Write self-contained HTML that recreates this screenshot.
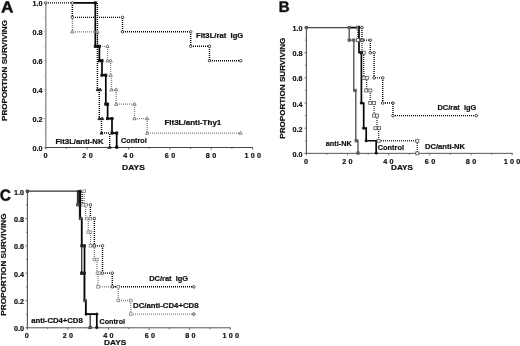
<!DOCTYPE html>
<html><head><meta charset="utf-8"><style>
html,body{margin:0;padding:0;background:#fff;width:520px;height:346px;overflow:hidden;}
svg{display:block;will-change:transform;}
text{font-family:"Liberation Sans", sans-serif;}
</style></head><body>
<svg width="520" height="346" viewBox="0 0 520 346" font-family='"Liberation Sans", sans-serif'>
<rect width="520" height="346" fill="#fff"/>
<line x1="45.8" y1="2.4" x2="45.8" y2="147.5" stroke="#999" stroke-width="1.5"/>
<line x1="44.6" y1="147.5" x2="252.8" y2="147.5" stroke="#444" stroke-width="1.0"/>
<line x1="43.8" y1="147.5" x2="45.8" y2="147.5" stroke="#999" stroke-width="0.8"/>
<line x1="44.4" y1="133.04" x2="45.8" y2="133.04" stroke="#999" stroke-width="0.8"/>
<line x1="43.8" y1="118.58" x2="45.8" y2="118.58" stroke="#999" stroke-width="0.8"/>
<line x1="44.4" y1="104.12" x2="45.8" y2="104.12" stroke="#999" stroke-width="0.8"/>
<line x1="43.8" y1="89.66" x2="45.8" y2="89.66" stroke="#999" stroke-width="0.8"/>
<line x1="44.4" y1="75.2" x2="45.8" y2="75.2" stroke="#999" stroke-width="0.8"/>
<line x1="43.8" y1="60.74" x2="45.8" y2="60.74" stroke="#999" stroke-width="0.8"/>
<line x1="44.4" y1="46.28" x2="45.8" y2="46.28" stroke="#999" stroke-width="0.8"/>
<line x1="43.8" y1="31.82" x2="45.8" y2="31.82" stroke="#999" stroke-width="0.8"/>
<line x1="44.4" y1="17.36" x2="45.8" y2="17.36" stroke="#999" stroke-width="0.8"/>
<line x1="43.8" y1="2.9" x2="45.8" y2="2.9" stroke="#999" stroke-width="0.8"/>
<line x1="45.8" y1="147.5" x2="45.8" y2="149.5" stroke="#444" stroke-width="0.8"/>
<line x1="66.48" y1="147.5" x2="66.48" y2="148.9" stroke="#444" stroke-width="0.8"/>
<line x1="87.16" y1="147.5" x2="87.16" y2="149.5" stroke="#444" stroke-width="0.8"/>
<line x1="107.84" y1="147.5" x2="107.84" y2="148.9" stroke="#444" stroke-width="0.8"/>
<line x1="128.52" y1="147.5" x2="128.52" y2="149.5" stroke="#444" stroke-width="0.8"/>
<line x1="149.2" y1="147.5" x2="149.2" y2="148.9" stroke="#444" stroke-width="0.8"/>
<line x1="169.88" y1="147.5" x2="169.88" y2="149.5" stroke="#444" stroke-width="0.8"/>
<line x1="190.56" y1="147.5" x2="190.56" y2="148.9" stroke="#444" stroke-width="0.8"/>
<line x1="211.24" y1="147.5" x2="211.24" y2="149.5" stroke="#444" stroke-width="0.8"/>
<line x1="231.92" y1="147.5" x2="231.92" y2="148.9" stroke="#444" stroke-width="0.8"/>
<line x1="252.6" y1="147.5" x2="252.6" y2="149.5" stroke="#444" stroke-width="0.8"/>
<text x="42.5" y="151.0" font-size="7.3" font-weight="bold" fill="#111" text-anchor="end" textLength="10.0" lengthAdjust="spacingAndGlyphs" stroke="#111" stroke-width="0.2">0.0</text>
<text x="42.5" y="122.08" font-size="7.3" font-weight="bold" fill="#111" text-anchor="end" textLength="10.0" lengthAdjust="spacingAndGlyphs" stroke="#111" stroke-width="0.2">0.2</text>
<text x="42.5" y="93.16" font-size="7.3" font-weight="bold" fill="#111" text-anchor="end" textLength="10.0" lengthAdjust="spacingAndGlyphs" stroke="#111" stroke-width="0.2">0.4</text>
<text x="42.5" y="64.24" font-size="7.3" font-weight="bold" fill="#111" text-anchor="end" textLength="10.0" lengthAdjust="spacingAndGlyphs" stroke="#111" stroke-width="0.2">0.6</text>
<text x="42.5" y="35.32" font-size="7.3" font-weight="bold" fill="#111" text-anchor="end" textLength="10.0" lengthAdjust="spacingAndGlyphs" stroke="#111" stroke-width="0.2">0.8</text>
<text x="42.5" y="6.4" font-size="7.3" font-weight="bold" fill="#111" text-anchor="end" textLength="10.0" lengthAdjust="spacingAndGlyphs" stroke="#111" stroke-width="0.2">1.0</text>
<text x="43.5" y="158.4" font-size="7.2" font-weight="bold" fill="#111" text-anchor="start" stroke="#111" stroke-width="0.2">0</text>
<text x="82.35" y="158.4" font-size="7.2" font-weight="bold" fill="#111" text-anchor="start" stroke="#111" stroke-width="0.2">2</text>
<text x="88.65" y="158.4" font-size="7.2" font-weight="bold" fill="#111" text-anchor="start" stroke="#111" stroke-width="0.2">0</text>
<text x="123.25" y="158.4" font-size="7.2" font-weight="bold" fill="#111" text-anchor="start" stroke="#111" stroke-width="0.2">4</text>
<text x="129.55" y="158.4" font-size="7.2" font-weight="bold" fill="#111" text-anchor="start" stroke="#111" stroke-width="0.2">0</text>
<text x="164.85" y="158.4" font-size="7.2" font-weight="bold" fill="#111" text-anchor="start" stroke="#111" stroke-width="0.2">6</text>
<text x="171.15" y="158.4" font-size="7.2" font-weight="bold" fill="#111" text-anchor="start" stroke="#111" stroke-width="0.2">0</text>
<text x="205.85" y="158.4" font-size="7.2" font-weight="bold" fill="#111" text-anchor="start" stroke="#111" stroke-width="0.2">8</text>
<text x="212.15" y="158.4" font-size="7.2" font-weight="bold" fill="#111" text-anchor="start" stroke="#111" stroke-width="0.2">0</text>
<text x="244.4" y="158.4" font-size="7.2" font-weight="bold" fill="#111" text-anchor="start" stroke="#111" stroke-width="0.2">1</text>
<text x="250.7" y="158.4" font-size="7.2" font-weight="bold" fill="#111" text-anchor="start" stroke="#111" stroke-width="0.2">0</text>
<text x="257.0" y="158.4" font-size="7.2" font-weight="bold" fill="#111" text-anchor="start" stroke="#111" stroke-width="0.2">0</text>
<path d="M10.5 12.4 9.47 9.62H5.05L4.03 12.4H1.6L5.83 1.5H8.69L12.9 12.4ZM7.26 3.18 7.21 3.35Q7.13 3.63 7.01 3.98Q6.9 4.34 5.6 7.9H8.93L7.78 4.76L7.43 3.71Z" fill="#111" stroke="#111" stroke-width="0.6"/>
<text transform="translate(7.4,121) rotate(-90)" font-size="7.3" font-weight="bold" fill="#111" stroke="#111" stroke-width="0.2" textLength="101" lengthAdjust="spacingAndGlyphs">PROPORTION SURVIVING</text>
<text x="122" y="170" font-size="7.6" font-weight="bold" fill="#111" text-anchor="start" textLength="23" lengthAdjust="spacingAndGlyphs" stroke="#111" stroke-width="0.2">DAYS</text>
<polyline points="72.4,2.9 95.3,2.9 95.3,46.28 99.4,46.28 99.4,60.74 102,60.74 102,75.2 105.8,75.2 105.8,104.12 107.6,104.12 107.6,118.58 112,118.58 112,133.04 116.7,133.04 116.7,147.5" fill="none" stroke="#050505" stroke-width="1.7"/>
<line x1="97.4" y1="2.9" x2="97.4" y2="89.66" stroke="#000" stroke-width="1.4" stroke-dasharray="1 1" stroke-dashoffset="1.9"/>
<line x1="97.4" y1="89.66" x2="99.3" y2="89.66" stroke="#000" stroke-width="1.4" stroke-dasharray="1 1" stroke-dashoffset="1.4"/>
<line x1="99.3" y1="89.66" x2="99.3" y2="118.58" stroke="#000" stroke-width="1.4" stroke-dasharray="1 1" stroke-dashoffset="1.66"/>
<line x1="99.3" y1="118.58" x2="101.5" y2="118.58" stroke="#000" stroke-width="1.4" stroke-dasharray="1 1" stroke-dashoffset="1.3"/>
<line x1="101.5" y1="118.58" x2="101.5" y2="133.04" stroke="#000" stroke-width="1.4" stroke-dasharray="1 1" stroke-dashoffset="1.58"/>
<line x1="101.5" y1="133.04" x2="109.7" y2="133.04" stroke="#000" stroke-width="1.4" stroke-dasharray="1 1" stroke-dashoffset="1.5"/>
<line x1="109.7" y1="133.04" x2="109.7" y2="147.5" stroke="#000" stroke-width="1.4" stroke-dasharray="1 1" stroke-dashoffset="1.04"/>
<line x1="72.4" y1="2.9" x2="72.4" y2="31.82" stroke="#808080" stroke-width="1.3" stroke-dasharray="1 1" stroke-dashoffset="1.9"/>
<line x1="72.4" y1="31.82" x2="97.5" y2="31.82" stroke="#808080" stroke-width="1.3" stroke-dasharray="1 1" stroke-dashoffset="1.4"/>
<line x1="97.5" y1="31.82" x2="97.5" y2="46.28" stroke="#808080" stroke-width="1.3" stroke-dasharray="1 1" stroke-dashoffset="1.82"/>
<line x1="97.5" y1="46.28" x2="107.5" y2="46.28" stroke="#808080" stroke-width="1.3" stroke-dasharray="1 1" stroke-dashoffset="1.5"/>
<line x1="107.5" y1="46.28" x2="107.5" y2="60.74" stroke="#808080" stroke-width="1.3" stroke-dasharray="1 1" stroke-dashoffset="1.28"/>
<line x1="107.5" y1="60.74" x2="110.6" y2="60.74" stroke="#808080" stroke-width="1.3" stroke-dasharray="1 1" stroke-dashoffset="1.5"/>
<line x1="110.6" y1="60.74" x2="110.6" y2="75.2" stroke="#808080" stroke-width="1.3" stroke-dasharray="1 1" stroke-dashoffset="1.74"/>
<line x1="110.6" y1="75.2" x2="111.5" y2="75.2" stroke="#808080" stroke-width="1.3" stroke-dasharray="1 1" stroke-dashoffset="1.6"/>
<line x1="111.5" y1="75.2" x2="111.5" y2="89.66" stroke="#808080" stroke-width="1.3" stroke-dasharray="1 1" stroke-dashoffset="1.2"/>
<line x1="111.5" y1="89.66" x2="116.2" y2="89.66" stroke="#808080" stroke-width="1.3" stroke-dasharray="1 1" stroke-dashoffset="1.5"/>
<line x1="116.2" y1="89.66" x2="116.2" y2="104.12" stroke="#808080" stroke-width="1.3" stroke-dasharray="1 1" stroke-dashoffset="1.66"/>
<line x1="116.2" y1="104.12" x2="134.5" y2="104.12" stroke="#808080" stroke-width="1.3" stroke-dasharray="1 1" stroke-dashoffset="1.2"/>
<line x1="134.5" y1="104.12" x2="134.5" y2="118.58" stroke="#808080" stroke-width="1.3" stroke-dasharray="1 1" stroke-dashoffset="1.12"/>
<line x1="134.5" y1="118.58" x2="147.2" y2="118.58" stroke="#808080" stroke-width="1.3" stroke-dasharray="1 1" stroke-dashoffset="1.5"/>
<line x1="147.2" y1="118.58" x2="147.2" y2="133.04" stroke="#808080" stroke-width="1.3" stroke-dasharray="1 1" stroke-dashoffset="1.58"/>
<line x1="147.2" y1="133.04" x2="240.5" y2="133.04" stroke="#808080" stroke-width="1.3" stroke-dasharray="1 1" stroke-dashoffset="1.2"/>
<line x1="45.8" y1="2.9" x2="72.4" y2="2.9" stroke="#000" stroke-width="1.4" stroke-dasharray="1 1" stroke-dashoffset="1.8"/>
<line x1="72.4" y1="2.9" x2="72.4" y2="17.36" stroke="#000" stroke-width="1.4" stroke-dasharray="1 1" stroke-dashoffset="1.9"/>
<line x1="72.4" y1="17.36" x2="122.5" y2="17.36" stroke="#000" stroke-width="1.4" stroke-dasharray="1 1" stroke-dashoffset="1.4"/>
<line x1="122.5" y1="17.36" x2="122.5" y2="31.82" stroke="#000" stroke-width="1.4" stroke-dasharray="1 1" stroke-dashoffset="1.36"/>
<line x1="122.5" y1="31.82" x2="190.7" y2="31.82" stroke="#000" stroke-width="1.4" stroke-dasharray="1 1" stroke-dashoffset="1.5"/>
<line x1="190.7" y1="31.82" x2="190.7" y2="46.28" stroke="#000" stroke-width="1.4" stroke-dasharray="1 1" stroke-dashoffset="1.82"/>
<line x1="190.7" y1="46.28" x2="209.5" y2="46.28" stroke="#000" stroke-width="1.4" stroke-dasharray="1 1" stroke-dashoffset="1.7"/>
<line x1="209.5" y1="46.28" x2="209.5" y2="60.74" stroke="#000" stroke-width="1.4" stroke-dasharray="1 1" stroke-dashoffset="1.28"/>
<line x1="209.5" y1="60.74" x2="240.7" y2="60.74" stroke="#000" stroke-width="1.4" stroke-dasharray="1 1" stroke-dashoffset="1.5"/>
<circle cx="45.8" cy="2.9" r="1.25" fill="#fff" stroke="#222" stroke-width="0.8"/>
<circle cx="72.4" cy="2.9" r="1.25" fill="#fff" stroke="#222" stroke-width="0.8"/>
<circle cx="72.4" cy="17.36" r="1.25" fill="#fff" stroke="#222" stroke-width="0.8"/>
<circle cx="122.5" cy="17.36" r="1.25" fill="#fff" stroke="#222" stroke-width="0.8"/>
<circle cx="122.5" cy="31.82" r="1.25" fill="#fff" stroke="#222" stroke-width="0.8"/>
<circle cx="190.7" cy="31.82" r="1.25" fill="#fff" stroke="#222" stroke-width="0.8"/>
<circle cx="190.7" cy="46.28" r="1.25" fill="#fff" stroke="#222" stroke-width="0.8"/>
<circle cx="209.5" cy="46.28" r="1.25" fill="#fff" stroke="#222" stroke-width="0.8"/>
<circle cx="209.5" cy="60.74" r="1.25" fill="#fff" stroke="#222" stroke-width="0.8"/>
<circle cx="240.7" cy="60.74" r="1.25" fill="#fff" stroke="#222" stroke-width="0.8"/>
<polygon points="72.4,30.04 70.75,33.01 74.05,33.01" fill="#fff" stroke="#666" stroke-width="0.8"/>
<polygon points="97.5,30.04 95.85,33.01 99.15,33.01" fill="#fff" stroke="#666" stroke-width="0.8"/>
<polygon points="107.5,44.5 105.85,47.47 109.15,47.47" fill="#fff" stroke="#666" stroke-width="0.8"/>
<polygon points="107.5,58.96 105.85,61.93 109.15,61.93" fill="#fff" stroke="#666" stroke-width="0.8"/>
<polygon points="110.6,58.96 108.95,61.93 112.25,61.93" fill="#fff" stroke="#666" stroke-width="0.8"/>
<polygon points="110.6,73.42 108.95,76.39 112.25,76.39" fill="#fff" stroke="#666" stroke-width="0.8"/>
<polygon points="111.5,87.88 109.85,90.85 113.15,90.85" fill="#fff" stroke="#666" stroke-width="0.8"/>
<polygon points="116.2,87.88 114.55,90.85 117.85,90.85" fill="#fff" stroke="#666" stroke-width="0.8"/>
<polygon points="116.2,102.34 114.55,105.31 117.85,105.31" fill="#fff" stroke="#666" stroke-width="0.8"/>
<polygon points="134.5,102.34 132.85,105.31 136.15,105.31" fill="#fff" stroke="#666" stroke-width="0.8"/>
<polygon points="134.5,116.8 132.85,119.77 136.15,119.77" fill="#fff" stroke="#666" stroke-width="0.8"/>
<polygon points="147.2,116.8 145.55,119.77 148.85,119.77" fill="#fff" stroke="#666" stroke-width="0.8"/>
<polygon points="147.2,131.26 145.55,134.23 148.85,134.23" fill="#fff" stroke="#666" stroke-width="0.8"/>
<polygon points="240.5,131.26 238.85,134.23 242.15,134.23" fill="#fff" stroke="#666" stroke-width="0.8"/>
<polygon points="97.6,88.04 96.1,90.74 99.1,90.74" fill="#222" stroke="#222" stroke-width="0.8"/>
<polygon points="100.2,88.04 98.7,90.74 101.7,90.74" fill="#222" stroke="#222" stroke-width="0.8"/>
<polygon points="99.3,116.96 97.8,119.66 100.8,119.66" fill="#222" stroke="#222" stroke-width="0.8"/>
<polygon points="102.3,116.96 100.8,119.66 103.8,119.66" fill="#222" stroke="#222" stroke-width="0.8"/>
<polygon points="101.5,131.42 100.0,134.12 103.0,134.12" fill="#222" stroke="#222" stroke-width="0.8"/>
<polygon points="109.7,145.58 108.2,148.28 111.2,148.28" fill="#222" stroke="#222" stroke-width="0.8"/>
<rect x="94.2" y="1.8" width="2.2" height="2.2" fill="#111" stroke="#111" stroke-width="0.8"/>
<rect x="94.2" y="45.18" width="2.2" height="2.2" fill="#111" stroke="#111" stroke-width="0.8"/>
<rect x="98.3" y="45.18" width="2.2" height="2.2" fill="#111" stroke="#111" stroke-width="0.8"/>
<rect x="98.3" y="59.64" width="2.2" height="2.2" fill="#111" stroke="#111" stroke-width="0.8"/>
<rect x="100.9" y="59.64" width="2.2" height="2.2" fill="#111" stroke="#111" stroke-width="0.8"/>
<rect x="100.9" y="74.1" width="2.2" height="2.2" fill="#111" stroke="#111" stroke-width="0.8"/>
<rect x="104.7" y="74.1" width="2.2" height="2.2" fill="#111" stroke="#111" stroke-width="0.8"/>
<rect x="104.7" y="103.02" width="2.2" height="2.2" fill="#111" stroke="#111" stroke-width="0.8"/>
<rect x="106.5" y="103.02" width="2.2" height="2.2" fill="#111" stroke="#111" stroke-width="0.8"/>
<rect x="106.5" y="117.48" width="2.2" height="2.2" fill="#111" stroke="#111" stroke-width="0.8"/>
<rect x="110.9" y="117.48" width="2.2" height="2.2" fill="#111" stroke="#111" stroke-width="0.8"/>
<rect x="110.9" y="131.94" width="2.2" height="2.2" fill="#111" stroke="#111" stroke-width="0.8"/>
<rect x="115.6" y="131.94" width="2.2" height="2.2" fill="#111" stroke="#111" stroke-width="0.8"/>
<rect x="115.6" y="146.1" width="2.2" height="2.2" fill="#111" stroke="#111" stroke-width="0.8"/>
<text x="196" y="38.4" font-size="7.0" font-weight="bold" fill="#111" text-anchor="start" textLength="47.3" lengthAdjust="spacingAndGlyphs" stroke="#111" stroke-width="0.2">Flt3L/rat&#160;&#160;IgG</text>
<text x="164.4" y="125.4" font-size="7.0" font-weight="bold" fill="#111" text-anchor="start" textLength="56.9" lengthAdjust="spacingAndGlyphs" stroke="#111" stroke-width="0.2">Flt3L/anti-Thy1</text>
<text x="55.4" y="143.7" font-size="7.0" font-weight="bold" fill="#111" text-anchor="start" textLength="48.1" lengthAdjust="spacingAndGlyphs" stroke="#111" stroke-width="0.2">Flt3L/anti-NK</text>
<text x="121" y="142.8" font-size="7.0" font-weight="bold" fill="#111" text-anchor="start" textLength="25.7" lengthAdjust="spacingAndGlyphs" stroke="#111" stroke-width="0.2">Control</text>
<line x1="306.4" y1="27.05" x2="306.4" y2="153.35" stroke="#555" stroke-width="1.1"/>
<line x1="305.2" y1="153.35" x2="512.6" y2="153.35" stroke="#555" stroke-width="1.0"/>
<line x1="304.4" y1="153.35" x2="306.4" y2="153.35" stroke="#555" stroke-width="0.8"/>
<line x1="305.0" y1="140.77" x2="306.4" y2="140.77" stroke="#555" stroke-width="0.8"/>
<line x1="304.4" y1="128.19" x2="306.4" y2="128.19" stroke="#555" stroke-width="0.8"/>
<line x1="305.0" y1="115.61" x2="306.4" y2="115.61" stroke="#555" stroke-width="0.8"/>
<line x1="304.4" y1="103.03" x2="306.4" y2="103.03" stroke="#555" stroke-width="0.8"/>
<line x1="305.0" y1="90.45" x2="306.4" y2="90.45" stroke="#555" stroke-width="0.8"/>
<line x1="304.4" y1="77.87" x2="306.4" y2="77.87" stroke="#555" stroke-width="0.8"/>
<line x1="305.0" y1="65.29" x2="306.4" y2="65.29" stroke="#555" stroke-width="0.8"/>
<line x1="304.4" y1="52.71" x2="306.4" y2="52.71" stroke="#555" stroke-width="0.8"/>
<line x1="305.0" y1="40.13" x2="306.4" y2="40.13" stroke="#555" stroke-width="0.8"/>
<line x1="304.4" y1="27.55" x2="306.4" y2="27.55" stroke="#555" stroke-width="0.8"/>
<line x1="306.4" y1="153.35" x2="306.4" y2="155.35" stroke="#555" stroke-width="0.8"/>
<line x1="326.98" y1="153.35" x2="326.98" y2="154.75" stroke="#555" stroke-width="0.8"/>
<line x1="347.56" y1="153.35" x2="347.56" y2="155.35" stroke="#555" stroke-width="0.8"/>
<line x1="368.14" y1="153.35" x2="368.14" y2="154.75" stroke="#555" stroke-width="0.8"/>
<line x1="388.72" y1="153.35" x2="388.72" y2="155.35" stroke="#555" stroke-width="0.8"/>
<line x1="409.3" y1="153.35" x2="409.3" y2="154.75" stroke="#555" stroke-width="0.8"/>
<line x1="429.88" y1="153.35" x2="429.88" y2="155.35" stroke="#555" stroke-width="0.8"/>
<line x1="450.46" y1="153.35" x2="450.46" y2="154.75" stroke="#555" stroke-width="0.8"/>
<line x1="471.04" y1="153.35" x2="471.04" y2="155.35" stroke="#555" stroke-width="0.8"/>
<line x1="491.62" y1="153.35" x2="491.62" y2="154.75" stroke="#555" stroke-width="0.8"/>
<line x1="512.2" y1="153.35" x2="512.2" y2="155.35" stroke="#555" stroke-width="0.8"/>
<text x="302.5" y="156.85" font-size="7.3" font-weight="bold" fill="#111" text-anchor="end" textLength="10.0" lengthAdjust="spacingAndGlyphs" stroke="#111" stroke-width="0.2">0.0</text>
<text x="302.5" y="131.69" font-size="7.3" font-weight="bold" fill="#111" text-anchor="end" textLength="10.0" lengthAdjust="spacingAndGlyphs" stroke="#111" stroke-width="0.2">0.2</text>
<text x="302.5" y="106.53" font-size="7.3" font-weight="bold" fill="#111" text-anchor="end" textLength="10.0" lengthAdjust="spacingAndGlyphs" stroke="#111" stroke-width="0.2">0.4</text>
<text x="302.5" y="81.37" font-size="7.3" font-weight="bold" fill="#111" text-anchor="end" textLength="10.0" lengthAdjust="spacingAndGlyphs" stroke="#111" stroke-width="0.2">0.6</text>
<text x="302.5" y="56.21" font-size="7.3" font-weight="bold" fill="#111" text-anchor="end" textLength="10.0" lengthAdjust="spacingAndGlyphs" stroke="#111" stroke-width="0.2">0.8</text>
<text x="302.5" y="31.05" font-size="7.3" font-weight="bold" fill="#111" text-anchor="end" textLength="10.0" lengthAdjust="spacingAndGlyphs" stroke="#111" stroke-width="0.2">1.0</text>
<text x="304.0" y="163.6" font-size="7.2" font-weight="bold" fill="#111" text-anchor="start" stroke="#111" stroke-width="0.2">0</text>
<text x="342.15" y="163.6" font-size="7.2" font-weight="bold" fill="#111" text-anchor="start" stroke="#111" stroke-width="0.2">2</text>
<text x="348.45" y="163.6" font-size="7.2" font-weight="bold" fill="#111" text-anchor="start" stroke="#111" stroke-width="0.2">0</text>
<text x="383.25" y="163.6" font-size="7.2" font-weight="bold" fill="#111" text-anchor="start" stroke="#111" stroke-width="0.2">4</text>
<text x="389.55" y="163.6" font-size="7.2" font-weight="bold" fill="#111" text-anchor="start" stroke="#111" stroke-width="0.2">0</text>
<text x="424.85" y="163.6" font-size="7.2" font-weight="bold" fill="#111" text-anchor="start" stroke="#111" stroke-width="0.2">6</text>
<text x="431.15" y="163.6" font-size="7.2" font-weight="bold" fill="#111" text-anchor="start" stroke="#111" stroke-width="0.2">0</text>
<text x="465.85" y="163.6" font-size="7.2" font-weight="bold" fill="#111" text-anchor="start" stroke="#111" stroke-width="0.2">8</text>
<text x="472.15" y="163.6" font-size="7.2" font-weight="bold" fill="#111" text-anchor="start" stroke="#111" stroke-width="0.2">0</text>
<text x="503.7" y="163.6" font-size="7.2" font-weight="bold" fill="#111" text-anchor="start" stroke="#111" stroke-width="0.2">1</text>
<text x="510.0" y="163.6" font-size="7.2" font-weight="bold" fill="#111" text-anchor="start" stroke="#111" stroke-width="0.2">0</text>
<text x="516.3" y="163.6" font-size="7.2" font-weight="bold" fill="#111" text-anchor="start" stroke="#111" stroke-width="0.2">0</text>
<path d="M288.9 8.9Q288.9 10.34 287.84 11.12Q286.78 11.9 284.89 11.9H279.7V1.4H284.45Q286.35 1.4 287.33 2.07Q288.3 2.73 288.3 4.04Q288.3 4.93 287.81 5.55Q287.32 6.16 286.32 6.38Q287.58 6.53 288.24 7.18Q288.9 7.83 288.9 8.9ZM286.12 4.34Q286.12 3.63 285.67 3.33Q285.22 3.03 284.35 3.03H281.87V5.63H284.36Q285.28 5.63 285.7 5.31Q286.12 4.98 286.12 4.34ZM286.72 8.73Q286.72 7.26 284.63 7.26H281.87V10.27H284.71Q285.75 10.27 286.24 9.88Q286.72 9.5 286.72 8.73Z" fill="#111" stroke="#111" stroke-width="0.5"/>
<text transform="translate(285.2,138.7) rotate(-90)" font-size="7.3" font-weight="bold" fill="#111" stroke="#111" stroke-width="0.2" textLength="101" lengthAdjust="spacingAndGlyphs">PROPORTION SURVIVING</text>
<text x="391.1" y="170.2" font-size="7.6" font-weight="bold" fill="#111" text-anchor="start" textLength="21.9" lengthAdjust="spacingAndGlyphs" stroke="#111" stroke-width="0.2">DAYS</text>
<polyline points="306.4,27.55 349.2,27.55 349.2,40.13 353.8,40.13 353.8,90.45 355.8,90.45 355.8,140.77 358,140.77 358,153.35" fill="none" stroke="#4a4a4a" stroke-width="1.3"/>
<line x1="357.9" y1="27.55" x2="357.9" y2="40.13" stroke="#333" stroke-width="1.3" stroke-dasharray="1 1" stroke-dashoffset="1.55"/>
<line x1="357.9" y1="40.13" x2="362" y2="40.13" stroke="#333" stroke-width="1.3" stroke-dasharray="1 1" stroke-dashoffset="1.9"/>
<line x1="362" y1="40.13" x2="362" y2="52.71" stroke="#333" stroke-width="1.3" stroke-dasharray="1 1" stroke-dashoffset="1.13"/>
<line x1="362" y1="52.71" x2="363.7" y2="52.71" stroke="#333" stroke-width="1.3" stroke-dasharray="1 1" stroke-dashoffset="0"/>
<line x1="363.7" y1="52.71" x2="363.7" y2="77.87" stroke="#333" stroke-width="1.3" stroke-dasharray="1 1" stroke-dashoffset="1.71"/>
<line x1="363.7" y1="77.87" x2="366.6" y2="77.87" stroke="#333" stroke-width="1.3" stroke-dasharray="1 1" stroke-dashoffset="1.7"/>
<line x1="366.6" y1="77.87" x2="366.6" y2="90.45" stroke="#333" stroke-width="1.3" stroke-dasharray="1 1" stroke-dashoffset="1.87"/>
<line x1="366.6" y1="90.45" x2="370.3" y2="90.45" stroke="#333" stroke-width="1.3" stroke-dasharray="1 1" stroke-dashoffset="1.6"/>
<line x1="370.3" y1="90.45" x2="370.3" y2="103.03" stroke="#333" stroke-width="1.3" stroke-dasharray="1 1" stroke-dashoffset="1.45"/>
<line x1="370.3" y1="103.03" x2="374.1" y2="103.03" stroke="#333" stroke-width="1.3" stroke-dasharray="1 1" stroke-dashoffset="1.3"/>
<line x1="374.1" y1="103.03" x2="374.1" y2="115.61" stroke="#333" stroke-width="1.3" stroke-dasharray="1 1" stroke-dashoffset="1.03"/>
<line x1="374.1" y1="115.61" x2="377" y2="115.61" stroke="#333" stroke-width="1.3" stroke-dasharray="1 1" stroke-dashoffset="1.1"/>
<line x1="377" y1="115.61" x2="377" y2="128.19" stroke="#333" stroke-width="1.3" stroke-dasharray="1 1" stroke-dashoffset="1.61"/>
<line x1="377" y1="128.19" x2="378.6" y2="128.19" stroke="#333" stroke-width="1.3" stroke-dasharray="1 1" stroke-dashoffset="0"/>
<line x1="378.6" y1="128.19" x2="378.6" y2="140.77" stroke="#333" stroke-width="1.3" stroke-dasharray="1 1" stroke-dashoffset="1.19"/>
<line x1="378.6" y1="140.77" x2="417.3" y2="140.77" stroke="#333" stroke-width="1.3" stroke-dasharray="1 1" stroke-dashoffset="1.6"/>
<line x1="417.3" y1="140.77" x2="417.3" y2="153.35" stroke="#333" stroke-width="1.3" stroke-dasharray="1 1" stroke-dashoffset="1.77"/>
<polyline points="349.2,27.55 359,27.55 359,52.71 361.4,52.71 361.4,103.03 363.7,103.03 363.7,128.19 366.2,128.19 366.2,140.77 376.2,140.77 376.2,153.35" fill="none" stroke="#050505" stroke-width="1.7"/>
<line x1="362" y1="27.55" x2="362" y2="40.13" stroke="#000" stroke-width="1.4" stroke-dasharray="1 1" stroke-dashoffset="1.55"/>
<line x1="362" y1="40.13" x2="370.3" y2="40.13" stroke="#000" stroke-width="1.4" stroke-dasharray="1 1" stroke-dashoffset="0"/>
<line x1="370.3" y1="40.13" x2="370.3" y2="52.71" stroke="#000" stroke-width="1.4" stroke-dasharray="1 1" stroke-dashoffset="1.13"/>
<line x1="370.3" y1="52.71" x2="374.1" y2="52.71" stroke="#000" stroke-width="1.4" stroke-dasharray="1 1" stroke-dashoffset="1.3"/>
<line x1="374.1" y1="52.71" x2="374.1" y2="77.87" stroke="#000" stroke-width="1.4" stroke-dasharray="1 1" stroke-dashoffset="1.71"/>
<line x1="374.1" y1="77.87" x2="382.7" y2="77.87" stroke="#000" stroke-width="1.4" stroke-dasharray="1 1" stroke-dashoffset="1.1"/>
<line x1="382.7" y1="77.87" x2="382.7" y2="103.03" stroke="#000" stroke-width="1.4" stroke-dasharray="1 1" stroke-dashoffset="1.87"/>
<line x1="382.7" y1="103.03" x2="393" y2="103.03" stroke="#000" stroke-width="1.4" stroke-dasharray="1 1" stroke-dashoffset="1.7"/>
<line x1="393" y1="103.03" x2="393" y2="115.61" stroke="#000" stroke-width="1.4" stroke-dasharray="1 1" stroke-dashoffset="1.03"/>
<line x1="393" y1="115.61" x2="476.3" y2="115.61" stroke="#000" stroke-width="1.4" stroke-dasharray="1 1" stroke-dashoffset="0"/>
<rect x="305.2" y="26.35" width="2.4" height="2.4" fill="#666" stroke="#555" stroke-width="0.8"/>
<rect x="348.0" y="26.35" width="2.4" height="2.4" fill="#666" stroke="#555" stroke-width="0.8"/>
<rect x="348.0" y="38.93" width="2.4" height="2.4" fill="#666" stroke="#555" stroke-width="0.8"/>
<rect x="352.6" y="38.93" width="2.4" height="2.4" fill="#666" stroke="#555" stroke-width="0.8"/>
<rect x="353.8" y="89.25" width="2.4" height="2.4" fill="#666" stroke="#555" stroke-width="0.8"/>
<rect x="355.0" y="139.57" width="2.4" height="2.4" fill="#666" stroke="#555" stroke-width="0.8"/>
<rect x="356.8" y="151.85" width="2.4" height="2.4" fill="#666" stroke="#555" stroke-width="0.8"/>
<rect x="356.4" y="26.05" width="3.0" height="3.0" fill="#fff" stroke="#555" stroke-width="0.8"/>
<rect x="356.4" y="38.63" width="3.0" height="3.0" fill="#fff" stroke="#555" stroke-width="0.8"/>
<rect x="360.5" y="38.63" width="3.0" height="3.0" fill="#fff" stroke="#555" stroke-width="0.8"/>
<rect x="360.5" y="51.21" width="3.0" height="3.0" fill="#fff" stroke="#555" stroke-width="0.8"/>
<rect x="362.2" y="51.21" width="3.0" height="3.0" fill="#fff" stroke="#555" stroke-width="0.8"/>
<rect x="362.2" y="76.37" width="3.0" height="3.0" fill="#fff" stroke="#555" stroke-width="0.8"/>
<rect x="365.3" y="76.37" width="3.0" height="3.0" fill="#fff" stroke="#555" stroke-width="0.8"/>
<rect x="364.7" y="88.95" width="3.0" height="3.0" fill="#fff" stroke="#555" stroke-width="0.8"/>
<rect x="368.8" y="88.95" width="3.0" height="3.0" fill="#fff" stroke="#555" stroke-width="0.8"/>
<rect x="368.8" y="101.53" width="3.0" height="3.0" fill="#fff" stroke="#555" stroke-width="0.8"/>
<rect x="372.6" y="101.53" width="3.0" height="3.0" fill="#fff" stroke="#555" stroke-width="0.8"/>
<rect x="372.6" y="114.11" width="3.0" height="3.0" fill="#fff" stroke="#555" stroke-width="0.8"/>
<rect x="375.5" y="114.11" width="3.0" height="3.0" fill="#fff" stroke="#555" stroke-width="0.8"/>
<rect x="374.0" y="126.69" width="3.0" height="3.0" fill="#fff" stroke="#555" stroke-width="0.8"/>
<rect x="377.5" y="126.69" width="3.0" height="3.0" fill="#fff" stroke="#555" stroke-width="0.8"/>
<rect x="377.1" y="139.27" width="3.0" height="3.0" fill="#fff" stroke="#555" stroke-width="0.8"/>
<rect x="415.8" y="139.27" width="3.0" height="3.0" fill="#fff" stroke="#555" stroke-width="0.8"/>
<rect x="415.8" y="151.85" width="3.0" height="3.0" fill="#fff" stroke="#555" stroke-width="0.8"/>
<circle cx="362" cy="27.55" r="1.3" fill="#fff" stroke="#222" stroke-width="0.8"/>
<circle cx="362" cy="40.13" r="1.3" fill="#fff" stroke="#222" stroke-width="0.8"/>
<circle cx="370.3" cy="40.13" r="1.3" fill="#fff" stroke="#222" stroke-width="0.8"/>
<circle cx="370.3" cy="52.71" r="1.3" fill="#fff" stroke="#222" stroke-width="0.8"/>
<circle cx="374.1" cy="52.71" r="1.3" fill="#fff" stroke="#222" stroke-width="0.8"/>
<circle cx="374.1" cy="77.87" r="1.3" fill="#fff" stroke="#222" stroke-width="0.8"/>
<circle cx="382.7" cy="77.87" r="1.3" fill="#fff" stroke="#222" stroke-width="0.8"/>
<circle cx="382.7" cy="103.03" r="1.3" fill="#fff" stroke="#222" stroke-width="0.8"/>
<circle cx="393" cy="103.03" r="1.3" fill="#fff" stroke="#222" stroke-width="0.8"/>
<circle cx="393" cy="115.61" r="1.3" fill="#fff" stroke="#222" stroke-width="0.8"/>
<circle cx="476.3" cy="115.61" r="1.3" fill="#fff" stroke="#222" stroke-width="0.8"/>
<circle cx="359" cy="27.55" r="1.2" fill="#111" stroke="#111" stroke-width="0.8"/>
<circle cx="361.4" cy="52.71" r="1.2" fill="#111" stroke="#111" stroke-width="0.8"/>
<circle cx="361.4" cy="103.03" r="1.2" fill="#111" stroke="#111" stroke-width="0.8"/>
<circle cx="363.7" cy="128.19" r="1.2" fill="#111" stroke="#111" stroke-width="0.8"/>
<circle cx="366.2" cy="140.77" r="1.2" fill="#111" stroke="#111" stroke-width="0.8"/>
<circle cx="376.2" cy="153.05" r="1.2" fill="#111" stroke="#111" stroke-width="0.8"/>
<text x="437.5" y="109.5" font-size="7.0" font-weight="bold" fill="#111" text-anchor="start" textLength="38.8" lengthAdjust="spacingAndGlyphs" stroke="#111" stroke-width="0.2">DC/rat&#160;&#160;IgG</text>
<text x="425" y="148.8" font-size="7.0" font-weight="bold" fill="#111" text-anchor="start" textLength="40" lengthAdjust="spacingAndGlyphs" stroke="#111" stroke-width="0.2">DC/anti-NK</text>
<text x="325.8" y="145.8" font-size="7.0" font-weight="bold" fill="#111" text-anchor="start" textLength="25.9" lengthAdjust="spacingAndGlyphs" stroke="#111" stroke-width="0.2">anti-NK</text>
<text x="377.7" y="150.2" font-size="7.0" font-weight="bold" fill="#111" text-anchor="start" textLength="26.3" lengthAdjust="spacingAndGlyphs" stroke="#111" stroke-width="0.2">Control</text>
<line x1="27.4" y1="190.7" x2="27.4" y2="327.8" stroke="#555" stroke-width="1.1"/>
<line x1="26.2" y1="327.8" x2="230.6" y2="327.8" stroke="#555" stroke-width="1.0"/>
<line x1="25.4" y1="327.8" x2="27.4" y2="327.8" stroke="#555" stroke-width="0.8"/>
<line x1="26.0" y1="314.14" x2="27.4" y2="314.14" stroke="#555" stroke-width="0.8"/>
<line x1="25.4" y1="300.48" x2="27.4" y2="300.48" stroke="#555" stroke-width="0.8"/>
<line x1="26.0" y1="286.82" x2="27.4" y2="286.82" stroke="#555" stroke-width="0.8"/>
<line x1="25.4" y1="273.16" x2="27.4" y2="273.16" stroke="#555" stroke-width="0.8"/>
<line x1="26.0" y1="259.5" x2="27.4" y2="259.5" stroke="#555" stroke-width="0.8"/>
<line x1="25.4" y1="245.84" x2="27.4" y2="245.84" stroke="#555" stroke-width="0.8"/>
<line x1="26.0" y1="232.18" x2="27.4" y2="232.18" stroke="#555" stroke-width="0.8"/>
<line x1="25.4" y1="218.52" x2="27.4" y2="218.52" stroke="#555" stroke-width="0.8"/>
<line x1="26.0" y1="204.86" x2="27.4" y2="204.86" stroke="#555" stroke-width="0.8"/>
<line x1="25.4" y1="191.2" x2="27.4" y2="191.2" stroke="#555" stroke-width="0.8"/>
<line x1="27.4" y1="327.8" x2="27.4" y2="329.8" stroke="#555" stroke-width="0.8"/>
<line x1="47.68" y1="327.8" x2="47.68" y2="329.2" stroke="#555" stroke-width="0.8"/>
<line x1="67.96" y1="327.8" x2="67.96" y2="329.8" stroke="#555" stroke-width="0.8"/>
<line x1="88.24" y1="327.8" x2="88.24" y2="329.2" stroke="#555" stroke-width="0.8"/>
<line x1="108.52" y1="327.8" x2="108.52" y2="329.8" stroke="#555" stroke-width="0.8"/>
<line x1="128.8" y1="327.8" x2="128.8" y2="329.2" stroke="#555" stroke-width="0.8"/>
<line x1="149.08" y1="327.8" x2="149.08" y2="329.8" stroke="#555" stroke-width="0.8"/>
<line x1="169.36" y1="327.8" x2="169.36" y2="329.2" stroke="#555" stroke-width="0.8"/>
<line x1="189.64" y1="327.8" x2="189.64" y2="329.8" stroke="#555" stroke-width="0.8"/>
<line x1="209.92" y1="327.8" x2="209.92" y2="329.2" stroke="#555" stroke-width="0.8"/>
<line x1="230.2" y1="327.8" x2="230.2" y2="329.8" stroke="#555" stroke-width="0.8"/>
<text x="24.0" y="331.3" font-size="7.3" font-weight="bold" fill="#111" text-anchor="end" textLength="10.0" lengthAdjust="spacingAndGlyphs" stroke="#111" stroke-width="0.2">0.0</text>
<text x="24.0" y="303.98" font-size="7.3" font-weight="bold" fill="#111" text-anchor="end" textLength="10.0" lengthAdjust="spacingAndGlyphs" stroke="#111" stroke-width="0.2">0.2</text>
<text x="24.0" y="276.66" font-size="7.3" font-weight="bold" fill="#111" text-anchor="end" textLength="10.0" lengthAdjust="spacingAndGlyphs" stroke="#111" stroke-width="0.2">0.4</text>
<text x="24.0" y="249.34" font-size="7.3" font-weight="bold" fill="#111" text-anchor="end" textLength="10.0" lengthAdjust="spacingAndGlyphs" stroke="#111" stroke-width="0.2">0.6</text>
<text x="24.0" y="222.02" font-size="7.3" font-weight="bold" fill="#111" text-anchor="end" textLength="10.0" lengthAdjust="spacingAndGlyphs" stroke="#111" stroke-width="0.2">0.8</text>
<text x="24.0" y="194.7" font-size="7.3" font-weight="bold" fill="#111" text-anchor="end" textLength="10.0" lengthAdjust="spacingAndGlyphs" stroke="#111" stroke-width="0.2">1.0</text>
<text x="24.8" y="337.8" font-size="7.2" font-weight="bold" fill="#111" text-anchor="start" stroke="#111" stroke-width="0.2">0</text>
<text x="62.65" y="337.8" font-size="7.2" font-weight="bold" fill="#111" text-anchor="start" stroke="#111" stroke-width="0.2">2</text>
<text x="68.95" y="337.8" font-size="7.2" font-weight="bold" fill="#111" text-anchor="start" stroke="#111" stroke-width="0.2">0</text>
<text x="103.25" y="337.8" font-size="7.2" font-weight="bold" fill="#111" text-anchor="start" stroke="#111" stroke-width="0.2">4</text>
<text x="109.55" y="337.8" font-size="7.2" font-weight="bold" fill="#111" text-anchor="start" stroke="#111" stroke-width="0.2">0</text>
<text x="144.75" y="337.8" font-size="7.2" font-weight="bold" fill="#111" text-anchor="start" stroke="#111" stroke-width="0.2">6</text>
<text x="151.05" y="337.8" font-size="7.2" font-weight="bold" fill="#111" text-anchor="start" stroke="#111" stroke-width="0.2">0</text>
<text x="185.15" y="337.8" font-size="7.2" font-weight="bold" fill="#111" text-anchor="start" stroke="#111" stroke-width="0.2">8</text>
<text x="191.45" y="337.8" font-size="7.2" font-weight="bold" fill="#111" text-anchor="start" stroke="#111" stroke-width="0.2">0</text>
<text x="222.4" y="337.8" font-size="7.2" font-weight="bold" fill="#111" text-anchor="start" stroke="#111" stroke-width="0.2">1</text>
<text x="228.7" y="337.8" font-size="7.2" font-weight="bold" fill="#111" text-anchor="start" stroke="#111" stroke-width="0.2">0</text>
<text x="235.0" y="337.8" font-size="7.2" font-weight="bold" fill="#111" text-anchor="start" stroke="#111" stroke-width="0.2">0</text>
<path d="M5.81 198.98Q7.8 198.98 8.58 196.87L10.5 197.63Q9.88 199.24 8.68 200.02Q7.48 200.8 5.81 200.8Q3.27 200.8 1.89 199.29Q0.5 197.77 0.5 195.05Q0.5 192.32 1.84 190.86Q3.17 189.4 5.71 189.4Q7.56 189.4 8.73 190.18Q9.9 190.96 10.37 192.48L8.42 193.04Q8.18 192.21 7.46 191.72Q6.74 191.22 5.76 191.22Q4.26 191.22 3.49 192.2Q2.72 193.17 2.72 195.05Q2.72 196.96 3.51 197.97Q4.31 198.98 5.81 198.98Z" fill="#111" stroke="#111" stroke-width="0.5"/>
<text transform="translate(6.4,315.7) rotate(-90)" font-size="7.3" font-weight="bold" fill="#111" stroke="#111" stroke-width="0.2" textLength="102.2" lengthAdjust="spacingAndGlyphs">PROPORTION SURVIVING</text>
<text x="104" y="345" font-size="7.6" font-weight="bold" fill="#111" text-anchor="start" textLength="22.4" lengthAdjust="spacingAndGlyphs" stroke="#111" stroke-width="0.2">DAYS</text>
<line x1="84.2" y1="191.2" x2="84.2" y2="204.86" stroke="#808080" stroke-width="1.3" stroke-dasharray="1 1" stroke-dashoffset="1.2"/>
<line x1="84.2" y1="204.86" x2="85.6" y2="204.86" stroke="#808080" stroke-width="1.3" stroke-dasharray="1 1" stroke-dashoffset="1.2"/>
<line x1="85.6" y1="204.86" x2="85.6" y2="218.52" stroke="#808080" stroke-width="1.3" stroke-dasharray="1 1" stroke-dashoffset="1.86"/>
<line x1="85.6" y1="218.52" x2="88.3" y2="218.52" stroke="#808080" stroke-width="1.3" stroke-dasharray="1 1" stroke-dashoffset="1.6"/>
<line x1="88.3" y1="218.52" x2="88.3" y2="232.18" stroke="#808080" stroke-width="1.3" stroke-dasharray="1 1" stroke-dashoffset="1.52"/>
<line x1="88.3" y1="232.18" x2="90.5" y2="232.18" stroke="#808080" stroke-width="1.3" stroke-dasharray="1 1" stroke-dashoffset="1.3"/>
<line x1="90.5" y1="232.18" x2="90.5" y2="245.84" stroke="#808080" stroke-width="1.3" stroke-dasharray="1 1" stroke-dashoffset="1.18"/>
<line x1="90.5" y1="245.84" x2="94.4" y2="245.84" stroke="#808080" stroke-width="1.3" stroke-dasharray="1 1" stroke-dashoffset="1.5"/>
<line x1="94.4" y1="245.84" x2="94.4" y2="259.5" stroke="#808080" stroke-width="1.3" stroke-dasharray="1 1" stroke-dashoffset="1.84"/>
<line x1="94.4" y1="259.5" x2="97" y2="259.5" stroke="#808080" stroke-width="1.3" stroke-dasharray="1 1" stroke-dashoffset="1.4"/>
<line x1="97" y1="259.5" x2="97" y2="273.16" stroke="#808080" stroke-width="1.3" stroke-dasharray="1 1" stroke-dashoffset="1.5"/>
<line x1="97" y1="273.16" x2="98" y2="273.16" stroke="#808080" stroke-width="1.3" stroke-dasharray="1 1" stroke-dashoffset="0"/>
<line x1="98" y1="273.16" x2="98" y2="286.82" stroke="#808080" stroke-width="1.3" stroke-dasharray="1 1" stroke-dashoffset="1.16"/>
<line x1="98" y1="286.82" x2="118.3" y2="286.82" stroke="#808080" stroke-width="1.3" stroke-dasharray="1 1" stroke-dashoffset="0"/>
<line x1="118.3" y1="286.82" x2="118.3" y2="300.48" stroke="#808080" stroke-width="1.3" stroke-dasharray="1 1" stroke-dashoffset="1.82"/>
<line x1="118.3" y1="300.48" x2="130.8" y2="300.48" stroke="#808080" stroke-width="1.3" stroke-dasharray="1 1" stroke-dashoffset="1.3"/>
<line x1="130.8" y1="300.48" x2="130.8" y2="314.14" stroke="#808080" stroke-width="1.3" stroke-dasharray="1 1" stroke-dashoffset="1.48"/>
<line x1="130.8" y1="314.14" x2="193.8" y2="314.14" stroke="#808080" stroke-width="1.3" stroke-dasharray="1 1" stroke-dashoffset="1.8"/>
<line x1="82.1" y1="191.2" x2="82.1" y2="204.86" stroke="#000" stroke-width="1.4" stroke-dasharray="1 1" stroke-dashoffset="1.2"/>
<line x1="82.1" y1="204.86" x2="90.4" y2="204.86" stroke="#000" stroke-width="1.4" stroke-dasharray="1 1" stroke-dashoffset="1.1"/>
<line x1="90.4" y1="204.86" x2="90.4" y2="218.52" stroke="#000" stroke-width="1.4" stroke-dasharray="1 1" stroke-dashoffset="1.86"/>
<line x1="90.4" y1="218.52" x2="94.4" y2="218.52" stroke="#000" stroke-width="1.4" stroke-dasharray="1 1" stroke-dashoffset="1.4"/>
<line x1="94.4" y1="218.52" x2="94.4" y2="245.84" stroke="#000" stroke-width="1.4" stroke-dasharray="1 1" stroke-dashoffset="1.52"/>
<line x1="94.4" y1="245.84" x2="102.5" y2="245.84" stroke="#000" stroke-width="1.4" stroke-dasharray="1 1" stroke-dashoffset="1.4"/>
<line x1="102.5" y1="245.84" x2="102.5" y2="273.16" stroke="#000" stroke-width="1.4" stroke-dasharray="1 1" stroke-dashoffset="1.84"/>
<line x1="102.5" y1="273.16" x2="112.3" y2="273.16" stroke="#000" stroke-width="1.4" stroke-dasharray="1 1" stroke-dashoffset="1.5"/>
<line x1="112.3" y1="273.16" x2="112.3" y2="286.82" stroke="#000" stroke-width="1.4" stroke-dasharray="1 1" stroke-dashoffset="1.16"/>
<line x1="112.3" y1="286.82" x2="193.8" y2="286.82" stroke="#000" stroke-width="1.4" stroke-dasharray="1 1" stroke-dashoffset="1.3"/>
<polyline points="27.4,191.2 77.5,191.2 77.5,204.86 79.5,204.86 79.5,218.52 81.7,218.52 81.7,273.16 84.4,273.16 84.4,300.48 85.8,300.48 85.8,314.14 90.2,314.14 90.2,327.8" fill="none" stroke="#333" stroke-width="1.3"/>
<rect x="77.0" y="191.2" width="3.6" height="13.66" fill="#333"/>
<polyline points="77.5,191.2 80.2,191.2 80.2,218.52 81.7,218.52 81.7,245.84 84.5,245.84 84.5,300.48 85.8,300.48 85.8,314.14 96.8,314.14 96.8,327.8" fill="none" stroke="#050505" stroke-width="1.7"/>
<rect x="26.2" y="190.0" width="2.4" height="2.4" fill="#555" stroke="#444" stroke-width="0.8"/>
<rect x="76.6" y="203.66" width="2.4" height="2.4" fill="#555" stroke="#444" stroke-width="0.8"/>
<rect x="79.3" y="217.32" width="2.4" height="2.4" fill="#555" stroke="#444" stroke-width="0.8"/>
<rect x="80.6" y="271.96" width="2.4" height="2.4" fill="#555" stroke="#444" stroke-width="0.8"/>
<rect x="83.8" y="299.28" width="2.4" height="2.4" fill="#555" stroke="#444" stroke-width="0.8"/>
<rect x="89.0" y="326.3" width="2.4" height="2.4" fill="#555" stroke="#444" stroke-width="0.8"/>
<circle cx="80.2" cy="191.2" r="1.2" fill="#111" stroke="#111" stroke-width="0.8"/>
<circle cx="86.2" cy="314.14" r="1.2" fill="#111" stroke="#111" stroke-width="0.8"/>
<circle cx="96.8" cy="314.14" r="1.2" fill="#111" stroke="#111" stroke-width="0.8"/>
<rect x="80.8" y="244.74" width="2.2" height="2.2" fill="#222" stroke="#222" stroke-width="0.8"/>
<rect x="83.3" y="244.74" width="2.2" height="2.2" fill="#222" stroke="#222" stroke-width="0.8"/>
<rect x="80.8" y="272.06" width="2.2" height="2.2" fill="#222" stroke="#222" stroke-width="0.8"/>
<rect x="83.3" y="272.06" width="2.2" height="2.2" fill="#222" stroke="#222" stroke-width="0.8"/>
<circle cx="96.8" cy="327.5" r="1.2" fill="#111" stroke="#111" stroke-width="0.8"/>
<rect x="82.9" y="189.9" width="2.6" height="2.6" fill="#fff" stroke="#888" stroke-width="0.8"/>
<rect x="81.9" y="203.56" width="2.6" height="2.6" fill="#fff" stroke="#888" stroke-width="0.8"/>
<rect x="84.7" y="203.56" width="2.6" height="2.6" fill="#fff" stroke="#888" stroke-width="0.8"/>
<rect x="85.5" y="217.22" width="2.6" height="2.6" fill="#fff" stroke="#888" stroke-width="0.8"/>
<rect x="89.1" y="217.22" width="2.6" height="2.6" fill="#fff" stroke="#888" stroke-width="0.8"/>
<rect x="87.0" y="230.88" width="2.6" height="2.6" fill="#fff" stroke="#888" stroke-width="0.8"/>
<rect x="89.2" y="230.88" width="2.6" height="2.6" fill="#fff" stroke="#888" stroke-width="0.8"/>
<rect x="89.1" y="244.54" width="2.6" height="2.6" fill="#fff" stroke="#888" stroke-width="0.8"/>
<rect x="92.7" y="244.54" width="2.6" height="2.6" fill="#fff" stroke="#888" stroke-width="0.8"/>
<rect x="93.1" y="258.2" width="2.6" height="2.6" fill="#fff" stroke="#888" stroke-width="0.8"/>
<rect x="95.7" y="258.2" width="2.6" height="2.6" fill="#fff" stroke="#888" stroke-width="0.8"/>
<rect x="96.2" y="271.86" width="2.6" height="2.6" fill="#fff" stroke="#888" stroke-width="0.8"/>
<rect x="98.2" y="271.86" width="2.6" height="2.6" fill="#fff" stroke="#888" stroke-width="0.8"/>
<rect x="96.7" y="285.52" width="2.6" height="2.6" fill="#fff" stroke="#888" stroke-width="0.8"/>
<rect x="117.0" y="285.52" width="2.6" height="2.6" fill="#fff" stroke="#888" stroke-width="0.8"/>
<rect x="117.0" y="299.18" width="2.6" height="2.6" fill="#fff" stroke="#888" stroke-width="0.8"/>
<rect x="129.5" y="299.18" width="2.6" height="2.6" fill="#fff" stroke="#888" stroke-width="0.8"/>
<rect x="129.5" y="312.84" width="2.6" height="2.6" fill="#fff" stroke="#888" stroke-width="0.8"/>
<circle cx="90.4" cy="204.86" r="1.3" fill="#fff" stroke="#222" stroke-width="0.8"/>
<circle cx="94.4" cy="218.52" r="1.3" fill="#fff" stroke="#222" stroke-width="0.8"/>
<circle cx="94.4" cy="245.84" r="1.3" fill="#fff" stroke="#222" stroke-width="0.8"/>
<circle cx="102.5" cy="245.84" r="1.3" fill="#fff" stroke="#222" stroke-width="0.8"/>
<circle cx="102.5" cy="273.16" r="1.3" fill="#fff" stroke="#222" stroke-width="0.8"/>
<circle cx="112.3" cy="273.16" r="1.3" fill="#fff" stroke="#222" stroke-width="0.8"/>
<circle cx="112.3" cy="286.82" r="1.3" fill="#fff" stroke="#222" stroke-width="0.8"/>
<circle cx="193.8" cy="286.82" r="1.3" fill="#fff" stroke="#222" stroke-width="0.8"/>
<circle cx="193.8" cy="314.14" r="1.3" fill="#fff" stroke="#222" stroke-width="0.8"/>
<text x="149.2" y="280.8" font-size="7.0" font-weight="bold" fill="#111" text-anchor="start" textLength="39" lengthAdjust="spacingAndGlyphs" stroke="#111" stroke-width="0.2">DC/rat&#160;&#160;IgG</text>
<text x="133.1" y="308.2" font-size="7.0" font-weight="bold" fill="#111" text-anchor="start" textLength="65.4" lengthAdjust="spacingAndGlyphs" stroke="#111" stroke-width="0.2">DC/anti-CD4+CD8</text>
<text x="31.2" y="322.7" font-size="7.0" font-weight="bold" fill="#111" text-anchor="start" textLength="51.5" lengthAdjust="spacingAndGlyphs" stroke="#111" stroke-width="0.2">anti-CD4+CD8</text>
<text x="99.6" y="324" font-size="7.0" font-weight="bold" fill="#111" text-anchor="start" textLength="25.4" lengthAdjust="spacingAndGlyphs" stroke="#111" stroke-width="0.2">Control</text>
</svg>
</body></html>
